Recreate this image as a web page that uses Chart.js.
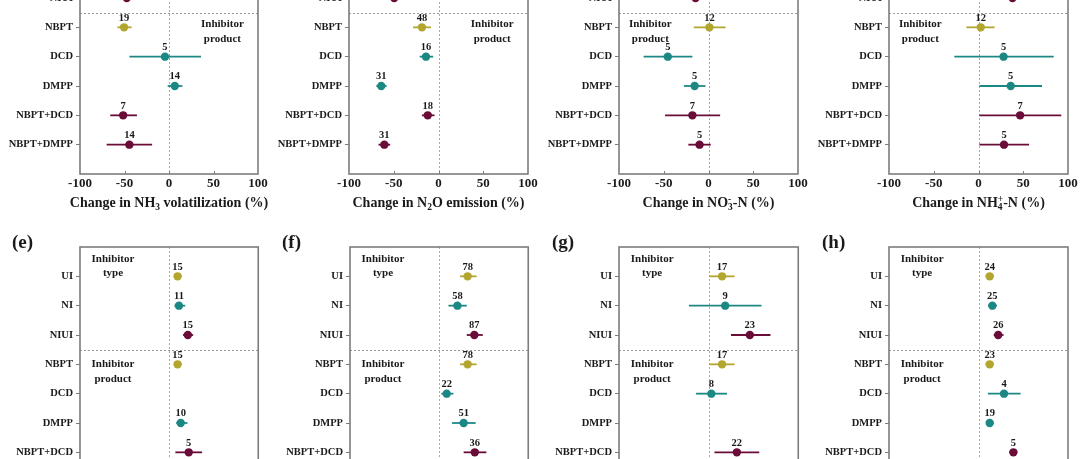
<!DOCTYPE html>
<html>
<head>
<meta charset="utf-8">
<script src="https://cdn.jsdelivr.net/npm/chart.js@4.4.1/dist/chart.umd.min.js"></script>
<style>
  html, body { margin: 0; padding: 0; background: #fff; }
  #wrap { position: relative; width: 1080px; height: 459px; overflow: hidden; background: #fff; }
  #wrap canvas { position: absolute; }
</style>
</head>
<body>
<div id="wrap"></div>
<script>
const categories = ['UI', 'NI', 'NIUI', 'NBPT', 'DCD', 'DMPP', 'NBPT+DCD', 'NBPT+DMPP'];
const xTicks = [-100, -50, 0, 50, 100];

// (a) NH3 volatilization
const aMean = [null, null, -47.5, -50.5, -4.5, 6.5, -51.5, -44.5];
const aLow  = [null, null, null, -58, -44.5, -1.5, -66, -70];
const aHigh = [null, null, null, -42, 36, 15, -36, -19];
const aN    = [null, null, null, 19, 5, 14, 7, 14];

// (b) N2O emission
const bMean = [null, null, -49.5, -18.5, -14, -64, -12, -60.5];
const bLow  = [null, null, null, -28.5, -21, -69.5, -18.5, -67];
const bHigh = [null, null, null, -8.5, -6, -58, -4.5, -54];
const bN    = [null, null, null, 48, 16, 31, 18, 31];

// (c) NO3--N
const cMean = [null, null, -14.5, 1, -45.5, -15.5, -18, -10];
const cLow  = [null, null, null, -16.5, -72.5, -27.5, -48.5, -22.5];
const cHigh = [null, null, null, 19, -18, -3.5, 13, 2.5];
const cN    = [null, null, null, 12, 5, 5, 7, 5];

// (d) NH4+-N
const dMean = [null, null, 38, 2.5, 28, 36, 46.5, 28.5];
const dLow  = [null, null, null, -13.5, -27, 1, 1, 1];
const dHigh = [null, null, null, 18, 84, 71, 92.5, 56.5];
const dN    = [null, null, null, 12, 5, 5, 7, 5];

// (e)
const eMean = [9.5, 11, 21, 9.5, null, 13, 22, null];
const eLow  = [6, 6, 15.5, 6, null, 8, 7, null];
const eHigh = [14, 18, 27, 14, null, 20.5, 37, null];
const eN    = [15, 11, 15, 15, null, 10, 5, null];

// (f)
const fMean = [32, 20.5, 39.5, 32, 8.5, 27.5, 40, null];
const fLow  = [23.5, 10.5, 31, 23.5, 2.5, 14.5, 27.5, null];
const fHigh = [42, 31, 49, 42, 16, 41, 53, null];
const fN    = [78, 58, 87, 78, 22, 51, 36, null];

// (g)
const gMean = [15, 18.5, 46, 15, 3, null, 31.5, null];
const gLow  = [1, -22, 25, 1, -14, null, 6.5, null];
const gHigh = [29, 59, 69, 29, 20.5, null, 56.5, null];
const gN    = [17, 9, 23, 17, 8, null, 22, null];

// (h)
const hMean = [12.5, 15.5, 22, 12.5, 28.5, 12.5, 39, null];
const hLow  = [8, 10.5, 17, 8, 10.5, 8.5, 34.5, null];
const hHigh = [17, 20.5, 28, 17, 47, 17, 43, null];
const hN    = [24, 25, 26, 23, 4, 19, 5, null];

const YEL = '#b2a62e', TEAL = '#1c8884', MAR = '#6a0c38';
const catColors = [YEL, TEAL, MAR, YEL, TEAL, TEAL, MAR, MAR];
const SERIF = '"Liberation Serif", "Times New Roman", serif';
const INK = '#1a1a1a';

const typeNote = { lines: ['Inhibitor', 'type'], x: -63, y: -0.6 };
const prodNoteL = { lines: ['Inhibitor', 'product'], x: -65, y: 2.9 };
const prodNoteR = { lines: ['Inhibitor', 'product'], x: 60, y: 2.9 };
const prodNoteB = { lines: ['Inhibitor', 'product'], x: -63, y: 3.0 };

const panels = [
  { tag: '(a)', mean: aMean, low: aLow, high: aHigh, n: aN, col: 0, row: 0, pl: 80, pr: 258,
    title: [['Change in NH'], ['3', 'sub'], [' volatilization (%)']], notes: [prodNoteR] },
  { tag: '(b)', mean: bMean, low: bLow, high: bHigh, n: bN, col: 1, row: 0, pl: 79, pr: 258,
    title: [['Change in N'], ['2', 'sub'], ['O emission (%)']], notes: [prodNoteR] },
  { tag: '(c)', mean: cMean, low: cLow, high: cHigh, n: cN, col: 2, row: 0, pl: 79, pr: 258,
    title: [['Change in NO'], ['3', 'sub', true], ['-', 'sup'], ['-N (%)']], notes: [prodNoteL] },
  { tag: '(d)', mean: dMean, low: dLow, high: dHigh, n: dN, col: 3, row: 0, pl: 79, pr: 258,
    title: [['Change in NH'], ['4', 'sub', true], ['+', 'sup'], ['-N (%)']], notes: [prodNoteL] },
  { tag: '(e)', mean: eMean, low: eLow, high: eHigh, n: eN, col: 0, row: 1, pl: 80, pr: 259,
    title: null, notes: [typeNote, prodNoteB] },
  { tag: '(f)', mean: fMean, low: fLow, high: fHigh, n: fN, col: 1, row: 1, pl: 80, pr: 262,
    title: null, notes: [typeNote, prodNoteB] },
  { tag: '(g)', mean: gMean, low: gLow, high: gHigh, n: gN, col: 2, row: 1, pl: 79, pr: 261,
    title: null, notes: [typeNote, prodNoteB] },
  { tag: '(h)', mean: hMean, low: hLow, high: hHigh, n: hN, col: 3, row: 1, pl: 79, pr: 258,
    title: null, notes: [typeNote, prodNoteB] }
];

const forestDecor = {
  id: 'forestDecor',
  beforeDatasetsDraw(chart) {
    const p = chart.options.plugins.forestDecor.panel;
    const { ctx, chartArea: a, scales: { x, y } } = chart;
    ctx.save();
    // reference lines
    ctx.setLineDash([2, 2]);
    ctx.lineWidth = 1;
    ctx.strokeStyle = '#a8a8a8';
    const x0 = Math.round(x.getPixelForValue(0)) + 0.5;
    ctx.beginPath(); ctx.moveTo(x0, a.top); ctx.lineTo(x0, a.bottom); ctx.stroke();
    const ym = Math.round(y.getPixelForValue(2.5)) + 0.5;
    ctx.strokeStyle = '#999';
    ctx.beginPath(); ctx.moveTo(a.left, ym); ctx.lineTo(a.right, ym); ctx.stroke();
    ctx.setLineDash([]);
    // error bars
    ctx.lineWidth = 1.8;
    p.mean.forEach((m, i) => {
      if (m == null || p.low[i] == null) return;
      const yy = y.getPixelForValue(i);
      ctx.strokeStyle = catColors[i];
      ctx.beginPath();
      ctx.moveTo(x.getPixelForValue(p.low[i]), yy);
      ctx.lineTo(x.getPixelForValue(p.high[i]), yy);
      ctx.stroke();
    });
    ctx.restore();
  },
  afterDatasetsDraw(chart) {
    const p = chart.options.plugins.forestDecor.panel;
    const { ctx, chartArea: a, scales: { x, y } } = chart;
    ctx.save();
    // frame
    ctx.strokeStyle = '#7c7c7c';
    ctx.lineWidth = 1.6;
    ctx.strokeRect(a.left, a.top, a.right - a.left, a.bottom - a.top);
    // inner x ticks
    ctx.lineWidth = 1;
    xTicks.slice(1, -1).forEach(v => {
      const px = Math.round(x.getPixelForValue(v)) + 0.5;
      ctx.beginPath(); ctx.moveTo(px, a.bottom); ctx.lineTo(px, a.bottom - 3); ctx.stroke();
    });
    // n labels
    ctx.fillStyle = INK;
    ctx.textAlign = 'center';
    ctx.textBaseline = 'middle';
    ctx.font = 'bold 10.5px ' + SERIF;
    p.mean.forEach((m, i) => {
      if (m == null || p.n[i] == null) return;
      ctx.fillText(String(p.n[i]), x.getPixelForValue(m), y.getPixelForValue(i) - 9.5);
    });
    // group notes
    ctx.font = 'bold 11px ' + SERIF;
    p.notes.forEach(nt => {
      const nx = x.getPixelForValue(nt.x), ny = y.getPixelForValue(nt.y);
      nt.lines.forEach((t, k) => ctx.fillText(t, nx, ny + k * 14.5));
    });
    // axis title with sub/superscripts
    if (p.title) {
      const big = 'bold 14px ' + SERIF, small = 'bold 9.5px ' + SERIF;
      let w = 0, held = 0;
      p.title.forEach(([t, m, hold]) => {
        ctx.font = m ? small : big;
        const tw = ctx.measureText(t).width;
        if (hold) { held = tw; } else { w += Math.max(tw, held); held = 0; }
      });
      let cx = (a.left + a.right) / 2 - w / 2;
      const base = a.bottom + 33;
      ctx.textAlign = 'left';
      ctx.textBaseline = 'alphabetic';
      held = 0;
      p.title.forEach(([t, m, hold]) => {
        ctx.font = m ? small : big;
        const dy = m === 'sub' ? 3 : m === 'sup' ? -5 : 0;
        ctx.fillText(t, cx, base + dy);
        const tw = ctx.measureText(t).width;
        if (hold) { held = tw; } else { cx += Math.max(tw, held); held = 0; }
      });
    }
    // panel letter
    ctx.font = 'bold 19px ' + SERIF;
    ctx.textAlign = 'left';
    ctx.textBaseline = 'middle';
    ctx.fillText(p.tag, 12, a.top - 4);
    ctx.restore();
  }
};

const wrap = document.getElementById('wrap');
const W = 270;

panels.forEach(p => {
  const top = p.row === 0 ? -130 : 215;
  const plotTop = p.row === 0 ? 40 : 32;
  const H = p.row === 0 ? 345 : 337;
  const xH = H - plotTop - 264;
  const cv = document.createElement('canvas');
  cv.width = W; cv.height = H;
  cv.style.left = (p.col * W) + 'px';
  cv.style.top = top + 'px';
  cv.style.width = W + 'px'; cv.style.height = H + 'px';
  wrap.appendChild(cv);

  const pts = [], cols = [];
  p.mean.forEach((m, i) => {
    if (m == null) return;
    pts.push({ x: m, y: i });
    cols.push(catColors[i]);
  });

  new Chart(cv, {
    type: 'scatter',
    data: {
      datasets: [{
        data: pts,
        pointRadius: 4.2,
        pointBorderWidth: 0,
        pointBackgroundColor: cols,
        pointBorderColor: cols
      }]
    },
    options: {
      responsive: false,
      animation: false,
      devicePixelRatio: 1,
      layout: { padding: { top: plotTop, right: W - p.pr, left: 0, bottom: 0 } },
      plugins: {
        legend: { display: false },
        tooltip: { enabled: false },
        forestDecor: { panel: p }
      },
      scales: {
        x: {
          type: 'linear', min: -100, max: 100,
          afterFit(s) { s.height = xH; },
          afterBuildTicks(s) { s.ticks = xTicks.map(v => ({ value: v })); },
          grid: { display: false, drawTicks: false },
          border: { display: false },
          ticks: { color: INK, padding: 2, maxRotation: 0, font: { family: SERIF, weight: 'bold', size: 13 } }
        },
        y: {
          type: 'linear', min: -1, max: 8, reverse: true,
          afterFit(s) { s.width = p.pl; },
          afterBuildTicks(s) { s.ticks = categories.map((c, i) => ({ value: i })); },
          grid: { drawOnChartArea: false, tickLength: 4, color: '#7c7c7c' },
          border: { display: false },
          ticks: {
            color: INK, padding: 3,
            font: { family: SERIF, weight: 'bold', size: 10.5 },
            callback: (v, i) => categories[i]
          }
        }
      }
    },
    plugins: [forestDecor]
  });
});
</script>
</body>
</html>
